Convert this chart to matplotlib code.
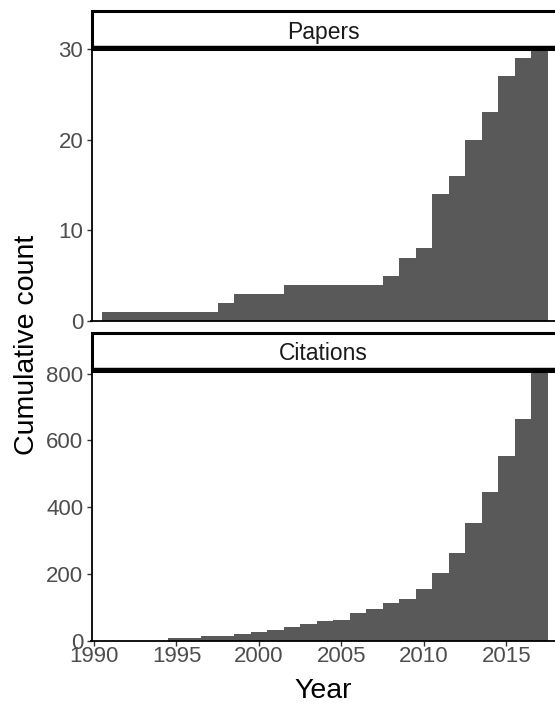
import matplotlib
matplotlib.use("Agg")
import matplotlib.pyplot as plt
from matplotlib.patches import Rectangle

plt.rcParams["font.family"] = ["Liberation Sans", "DejaVu Sans"]

years = list(range(1991, 2018))
papers = [1, 1, 1, 1, 1, 1, 1, 2, 3, 3, 3, 4, 4, 4, 4, 4, 4,
          5, 7, 8, 14, 16, 20, 23, 27, 29, 30]
citations = [0, 0, 0, 0, 8, 9, 15, 16, 22, 28, 34, 41, 51, 61, 64, 84,
             97, 114, 126, 157, 204, 262, 352, 445, 552, 664, 809]
panel_titles = ["Papers", "Citations"]
y_ticks = [[0, 10, 20, 30], [0, 200, 400, 600, 800]]
y_max = [30, 809]
x_ticks = [1990, 1995, 2000, 2005, 2010, 2015]

_W, _H = 555, 704
_BAR = "#595959"
_TICK_TXT = "#4D4D4D"
_TICK = "#333333"


def _px_box(left, top, right, bottom):
    # pixel box -> figure fraction rect
    return [left / _W, 1 - bottom / _H, (right - left) / _W, (bottom - top) / _H]


def draw_panel(ax, values, title, ticks, ymax, show_x):
    ax.bar(years, values, width=1.0, color=_BAR, linewidth=0, align="center")
    ax.set_xlim(1989.85, 2017.94)
    ax.set_ylim(0, ymax)
    ax.set_yticks(ticks)
    for side in ("top", "right"):
        ax.spines[side].set_visible(False)
    for side in ("left", "bottom"):
        ax.spines[side].set_linewidth(1.3)
        ax.spines[side].set_color("black")
    ax.tick_params(axis="y", length=3.4, width=1.0, color=_TICK, pad=2.5,
                   labelsize=16, labelcolor=_TICK_TXT)
    if show_x:
        ax.set_xticks(x_ticks)
        ax.tick_params(axis="x", length=3.4, width=1.0, color=_TICK, pad=0.5,
                       labelsize=16, labelcolor=_TICK_TXT)
    else:
        ax.set_xticks([])

    # facet strip, bottom edge a bit heavier like the reference
    px = ax.get_position().height * _H
    h = 38 / px
    strip = Rectangle((0, 1), 1.05, h, transform=ax.transAxes, clip_on=False,
                      facecolor="white", edgecolor="black", linewidth=2.2, zorder=5)
    ax.add_patch(strip)
    ax.plot([0, 1.05], [1 + 1 / px, 1 + 1 / px], transform=ax.transAxes,
            color="black", linewidth=3.2, clip_on=False, zorder=6,
            solid_capstyle="butt")
    ax.text(0.5, 1 + 10.5 / px, title,
            transform=ax.transAxes, ha="center", va="baseline",
            fontsize=16.5, color="#1A1A1A", zorder=7)


fig = plt.figure(figsize=(_W / 100, _H / 100), dpi=100)
ax_top = fig.add_axes(_px_box(91.5, 49, 555, 321))
ax_bot = fig.add_axes(_px_box(91.5, 370.5, 555, 641))

draw_panel(ax_top, papers, panel_titles[0], y_ticks[0], y_max[0], False)
draw_panel(ax_bot, citations, panel_titles[1], y_ticks[1], y_max[1], True)

fig.text(34 / _W, 1 - 344.5 / _H, "Cumulative count", rotation=90,
         rotation_mode="anchor", ha="center", va="baseline", fontsize=20.5)
fig.text(323 / _W, 1 - 697.5 / _H, "Year", ha="center", va="baseline", fontsize=20.5)

fig.savefig("out.png", dpi=100)
